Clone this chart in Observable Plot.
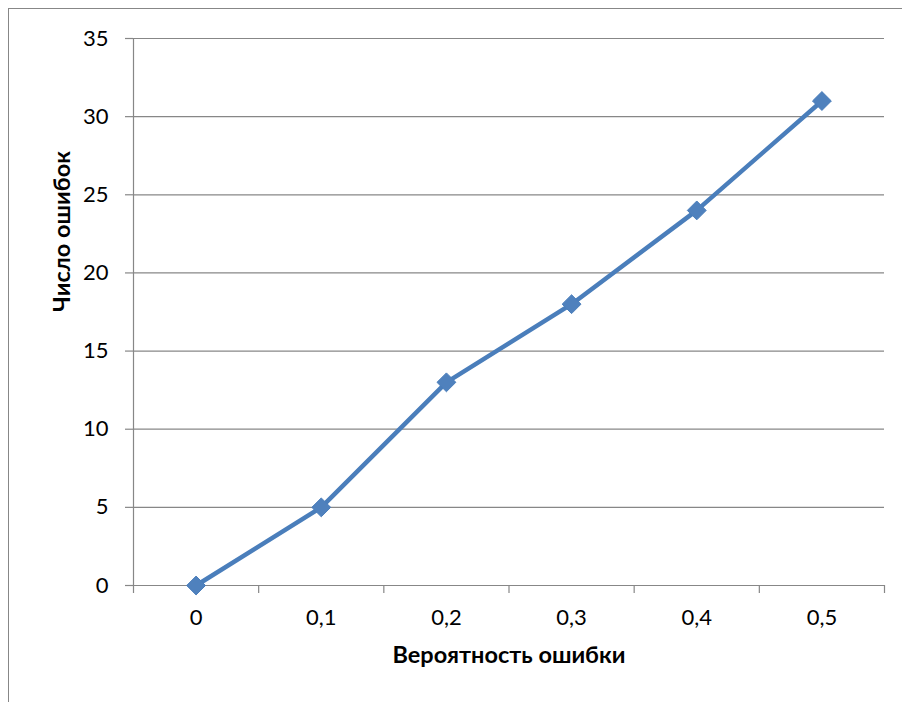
<!DOCTYPE html>
<html>
<head>
<meta charset="utf-8">
<script src="https://cdn.jsdelivr.net/npm/d3@7"></script>
<script src="https://cdn.jsdelivr.net/npm/@observablehq/plot@0.6"></script>
<style>
  html, body { margin: 0; padding: 0; background: #fff; overflow: hidden; }
  #wrap { position: relative; width: 902px; height: 702px; }
  #border { position: absolute; left: 8px; top: 8px; width: 1000px; height: 1000px; border: 1px solid #878787; box-sizing: border-box; pointer-events: none; }
  #chart { position: absolute; left: 0; top: 0; }
</style>
</head>
<body>
<div id="wrap"><div id="chart"></div><div id="border"></div></div>
<script>
const probabilities = [0, 0.1, 0.2, 0.3, 0.4, 0.5];
const errors = [0, 5, 13, 18, 24, 31];
const xTickLabels = ["0", "0,1", "0,2", "0,3", "0,4", "0,5"];
const xBoundaries = [-0.05, 0.05, 0.15, 0.25, 0.35, 0.45, 0.55];
const yTicks = [0, 5, 10, 15, 20, 25, 30, 35];
const xTitle = "Вероятность ошибки";
const yTitle = "Число ошибок";

const data = probabilities.map((p, i) => ({p, e: errors[i]}));
const font = "Lato, 'Open Sans', sans-serif";
const gray = "#878787";
const blue = "#4A7EBB";

const chart = Plot.plot({
  width: 902,
  height: 702,
  marginLeft: 133,
  marginRight: 18,
  marginTop: 38,
  marginBottom: 117,
  style: {fontFamily: font, fontSize: "22px", color: "#000", background: "transparent"},
  x: {domain: [xBoundaries[0], xBoundaries[xBoundaries.length - 1]]},
  y: {domain: [0, 35]},
  marks: [
    Plot.ruleY(yTicks, {y: d => d, x1: xBoundaries[0], x2: xBoundaries[xBoundaries.length - 1], stroke: gray, strokeWidth: 1.2}),
    Plot.axisY(yTicks, {tickSize: 8, tickPadding: 17, stroke: gray, strokeWidth: 1.2, fill: "#000", fontSize: 22, label: null}),
    Plot.ruleX([xBoundaries[0]], {y1: 0, y2: 35, stroke: gray, strokeWidth: 1.2}),
    Plot.axisX(xBoundaries, {tickSize: 8, tickFormat: () => "", stroke: gray, strokeWidth: 1.2, label: null}),
    Plot.axisX(probabilities, {tickSize: 0, tickPadding: 24, tickFormat: (d, i) => xTickLabels[i], fill: "#000", fontSize: 22, label: null}),
    Plot.line(data, {x: "p", y: "e", stroke: blue, strokeWidth: 4.5}),
    Plot.dot(data, {x: "p", y: "e", symbol: "diamond2", r: 8.5, fill: "#4F81BD", stroke: blue, strokeWidth: 1}),
    Plot.text([xTitle], {frameAnchor: "bottom", dy: 77, text: d => d, fontWeight: "bold", fontSize: 23.5, fill: "#000"}),
    Plot.text([yTitle], {frameAnchor: "left", dx: -71, rotate: -90, text: d => d, fontWeight: "bold", fontSize: 23.5, fill: "#000"})
  ]
});
document.getElementById("chart").appendChild(chart);
</script>
</body>
</html>
